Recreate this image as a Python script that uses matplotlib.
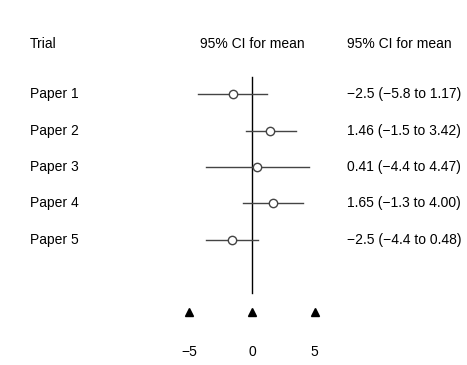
import matplotlib.pyplot as plt
import matplotlib.transforms as mtransforms

trials = ["Paper 1", "Paper 2", "Paper 3", "Paper 4", "Paper 5"]
means = [-1.55, 1.46, 0.41, 1.68, -1.6]
lower = [-4.35, -0.5, -3.7, -0.72, -3.65]
upper = [1.2, 3.52, 4.58, 4.08, 0.5]
ci_labels = ["\u22122.5 (\u22125.8 to 1.17)", "1.46 (\u22121.5 to 3.42)",
             "0.41 (\u22124.4 to 4.47)", "1.65 (\u22121.3 to 4.00)",
             "\u22122.5 (\u22124.4 to 0.48)"]
ticks = [-5, 0, 5]
tick_labels = ["\u22125", "0", "5"]

plt.rcParams['font.family'] = ['Liberation Sans', 'DejaVu Sans']

fig = plt.figure(figsize=(4.67, 3.65), dpi=100)
ax = fig.add_axes([0, 0, 1, 1])
ax.set_xlim(-252 / 12.5, (467 - 252) / 12.5)
ax.set_ylim(1 + (365 - 94.3) / 36.35, 1 - 94.3 / 36.35)
ax.axis('off')

rows = list(range(1, len(trials) + 1))

# reference line at zero
ax.plot([0, 0], [0.52, 6.47], color='black', lw=1)

for r, m, lo, hi in zip(rows, means, lower, upper):
    ax.plot([lo, hi], [r, r], color='#444444', lw=1)
    ax.plot(m, r, 'o', mfc='white', mec='#444444', ms=6, mew=1)

# axis "ticks" drawn as triangles
ax.plot(ticks, [7.0] * len(ticks), '^', color='black', ms=6)
for t, lab in zip(ticks, tick_labels):
    ax.text(t, 8.1, lab, ha='center', va='center', fontsize=10)

trans = mtransforms.blended_transform_factory(ax.transAxes, ax.transData)
fs = 10
ax.text(30 / 467, -0.38, "Trial", transform=trans, ha='left', va='center', fontsize=fs)
ax.text(0, -0.38, "95% CI for mean", ha='center', va='center', fontsize=fs)
ax.text(347 / 467, -0.38, "95% CI for mean", transform=trans, ha='left', va='center', fontsize=fs)

for r, name, lab in zip(rows, trials, ci_labels):
    ax.text(30 / 467, r, name, transform=trans, ha='left', va='center', fontsize=fs)
    ax.text(347 / 467, r, lab, transform=trans, ha='left', va='center', fontsize=fs)

fig.savefig("out.png", dpi=100)
